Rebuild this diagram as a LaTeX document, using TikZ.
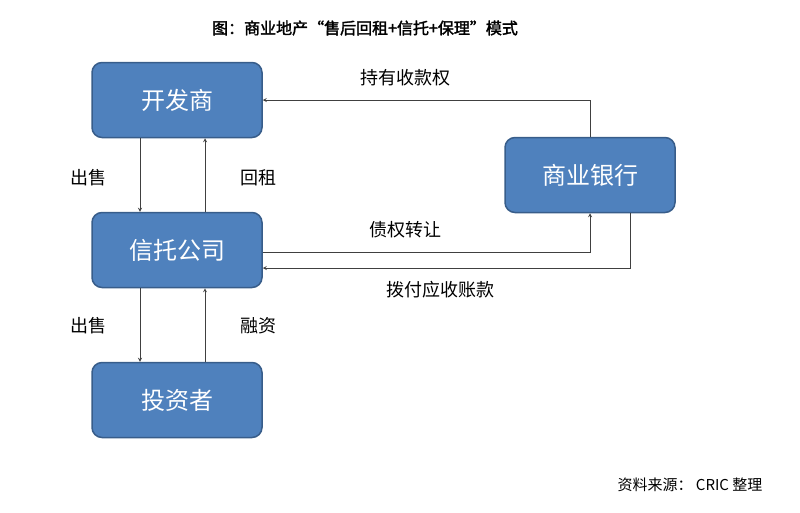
\documentclass[tikz,border=0pt]{standalone}
\usepackage{fontspec}
\setmainfont{Noto Sans CJK SC}
\newfontfamily\cjkbold[FakeBold=2]{Noto Sans CJK SC}
\usetikzlibrary{positioning}
\definecolor{boxblue}{HTML}{4F81BD}
\definecolor{boxline}{HTML}{385D8A}
\tikzset{
  party/.style={draw=boxline, line width=1.5pt, fill=boxblue, rounded corners=10pt,
    minimum width=170pt, minimum height=75pt, text=white, font=\fontsize{24}{26}\selectfont},
  flow/.style={draw=black!75, line width=0.8pt, -stealth},
  lbl/.style={font=\fontsize{18}{20}\selectfont}
}
\begin{document}
\begin{tikzpicture}[x=1pt, y=-1pt]
  \useasboundingbox (0,0) rectangle (800,512);
  \node[font=\cjkbold\fontsize{16}{18}\selectfont] (title) at (365,28) {图：商业地产“售后回租+信托+保理”模式};

  \node[party] (KF) at (177,100) {开发商};
  \node[party] (XT) at (177,250) {信托公司};
  \node[party] (TZ) at (177,400) {投资者};
  \node[party] (YH) at (590,175) {商业银行};

  \draw[flow] ([xshift=-37pt]KF.south) -- ([xshift=-37pt]XT.north);
  \draw[flow] ([xshift=28pt]XT.north) -- ([xshift=28pt]KF.south);
  \draw[flow] ([xshift=-37pt]XT.south) -- ([xshift=-37pt]TZ.north);
  \draw[flow] ([xshift=28pt]TZ.north) -- ([xshift=28pt]XT.south);

  \draw[flow] (YH.north) |- (KF.east);
  \draw[flow] ([yshift=-2pt]XT.east) -| (YH.south);
  \draw[flow] ([xshift=40pt]YH.south) |- ([yshift=-18pt]XT.east);

  \node[lbl] (l1) at (88,178) {出售};
  \node[lbl] (l2) at (258,178) {回租};
  \node[lbl] (l3) at (88,326) {出售};
  \node[lbl] (l4) at (258,326) {融资};
  \node[lbl] (l5) at (405,78) {持有收款权};
  \node[lbl] (l6) at (405,230) {债权转让};
  \node[lbl] (l7) at (440,290) {拨付应收账款};
  \node[font=\fontsize{15}{17}\selectfont] (src) at (690,485) {资料来源： CRIC 整理};
\end{tikzpicture}
\end{document}
